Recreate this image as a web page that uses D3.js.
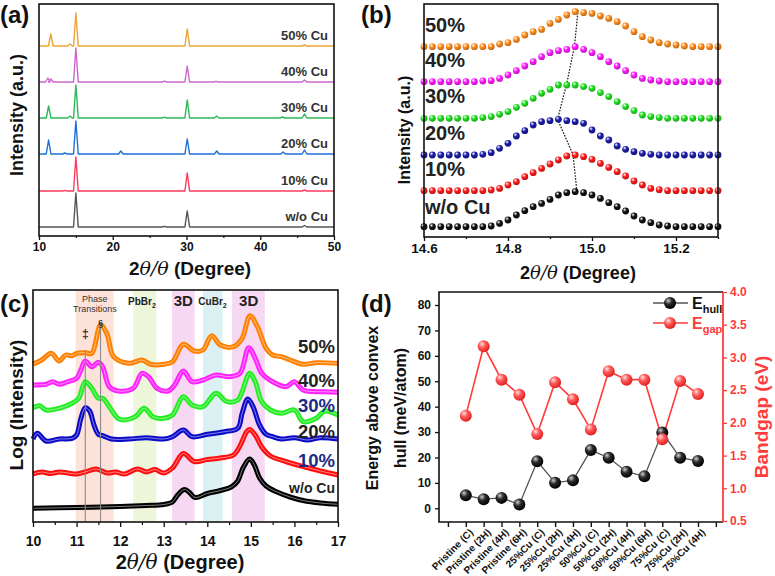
<!DOCTYPE html>
<html><head><meta charset="utf-8">
<script src="https://cdn.jsdelivr.net/npm/d3@7"></script>
<style>body{margin:0;background:#fff}svg{display:block}text{font-family:Arial,"Liberation Sans",sans-serif}</style>
</head><body><svg id="c" width="775" height="576"></svg>
<script>
// ---------------- DATA ----------------
// (a) XRD peaks: [2theta, height]
const seriesLabelsA = ["w/o Cu","10% Cu","20% Cu","30% Cu","40% Cu","50% Cu"];
const colorsA = ["#555555","#ff3a5e","#1f6fd8","#2cb85a","#cc66cc","#eba533"];
const offsetsA = [9,45,82,118,154,190];
const peaksWo = [[15,34],[27,0.7],[30.1,16],[46,1.5]];
const peaks10 = [[13.5,0.7],[15,34],[30.1,18],[46,1]];
const peaks20 = [[11.3,14],[13.5,1],[15,33],[21.1,3],[30.1,15],[34.1,3],[43.1,2],[46,4]];
const peaks30 = [[11.3,12],[14.2,2],[15,33],[27,0.8],[30.1,18],[34.1,2],[43,1],[46,4]];
const peaks40 = [[11.2,4],[11.6,3],[15,34],[27,0.8],[30.1,16],[34,0.7],[46,2]];
const peaks50 = [[11.6,12],[14.2,2],[15,33],[30.1,17],[46,1]];
const xTicksA = [10,20,30,40,50];

// (b) zoomed peak, sampled every 0.02 deg from 14.60 to 15.30
const labelsB = ["w/o Cu","10%","20%","30%","40%","50%"];
const colorsB = ["#111111","#ff1a1a","#1c1ca8","#1fe01f","#ff1aff","#ff8c1a"];
const offsetsB = [10.3,46.3,82,118.7,155.3,190.3];
const bWo  = [0,0,0,0,0,0,0,0,0.7,3.3,6.7,11.7,16,20,23.3,27.3,31.7,34,35,34,31.7,28.3,24,20,15.7,10.7,6.7,4,1.7,0.7,0,0,0,0,0,0];
const b10  = [0,0,0,0,0,0,0,0,0.7,2.3,5.7,9,14,18,22.3,26.7,30.7,34.7,35.7,34,31.3,27.3,23.3,19,14.7,9.7,5.7,2.3,1,0,0,0,0,0,0,0];
const b20  = [0,0,0,0,0,0,0,0.7,2.3,6.7,11.7,19,24.3,30,33.3,34.3,35.7,34.3,33.3,31.7,25,19,15,9,5.7,3.3,1.7,0.7,0,0,0,0,0,0,0,0];
const b30  = [0,0,0,0,0,0,0,0.7,1.7,4,6.7,11,15,20,25,29,33.3,33.3,33.3,31.7,30,25.7,21.7,16.7,11.7,7.7,3.3,1.7,0.7,0,0,0,0,0,0,0];
const b40  = [0,0,0,0,0,0,0,0.7,1,3.3,6.7,11,15.7,20,25,29,31,32.3,35,32.3,29,25,20,15.7,11,6.7,3.3,1.7,0.7,0,0,0,0,0,0,0];
const b50  = [0,0,0,0,0,0,0,0,0,2.7,4,7.3,11.7,15,17.3,23.3,27.3,31.7,35,34,33.3,30.7,28.3,25,20.7,15,10,6.7,4,2.7,1.7,0.7,0,0,0,0];
const peakPosB = [14.964,14.955,14.918,14.94,14.958,14.967];
const peakTopB = [45.3,82,117.7,153.7,190.3,227];
const xTicksB = [14.6,14.8,15.0,15.2];

// (c) log-intensity patterns: [2theta, value]
const labelsC = ["w/o Cu","10%","20%","30%","40%","50%"];
const colorsC = ["#000000","#ff0d0d","#0a0ac8","#22ee22","#ff22ff","#ff8000"];
const labelColorsC = ["#222","#1c2a86","#222","#1c2a86","#222","#222"];
const cWo = [[10,13.7],[11,14.5],[12,15.5],[12.6,16.5],[13.0,17.5],[13.2,20],[13.32,27],[13.47,32.5],[13.58,30],[13.72,24.5],[14.0,28.5],[14.3,31.5],[14.55,35],[14.7,41],[14.82,54],[14.97,63],[15.08,57],[15.2,44],[15.35,36],[15.6,30],[15.9,25],[16.2,21.5],[16.6,19],[17,17.7]];
const c10 = [[10,48],[10.2,50],[10.4,48.5],[10.6,50],[10.8,49],[11.0,48],[11.2,50],[11.45,53],[11.7,49],[11.9,50],[12.1,48],[12.4,53],[12.6,50],[12.8,52.5],[13.0,49],[13.2,54],[13.45,68.5],[13.7,60.5],[14.0,62.5],[14.3,64],[14.6,67],[14.75,76],[14.9,90],[14.97,92.5],[15.1,87],[15.25,75],[15.45,66],[15.8,60.5],[16.2,55.5],[16.6,51],[17,47]];
const c20 = [[10,83],[10.1,88.7],[10.3,81],[10.6,83],[10.9,83.7],[11.0,87],[11.1,103.7],[11.2,114.3],[11.3,111],[11.4,97],[11.5,87.7],[11.6,86.3],[11.8,83],[12.2,83],[12.6,84.3],[13.0,83],[13.2,85.3],[13.45,92],[13.65,85.3],[14.0,87.7],[14.4,90.3],[14.7,93.7],[14.8,108.7],[14.93,123],[15.05,115.3],[15.2,97],[15.35,87.7],[15.5,85.3],[15.7,83],[16.0,84.3],[16.3,82],[16.6,84.3],[17,83]];
const c30 = [[10,114.3],[10.15,116.3],[10.3,112],[10.6,113.7],[10.9,118.7],[11.05,123.7],[11.2,140.3],[11.35,133.7],[11.5,123.7],[11.6,123.7],[11.75,115.3],[11.95,103.7],[12.1,102],[12.35,105.3],[12.55,113.7],[12.75,105.3],[13.0,103.7],[13.2,107],[13.45,125.3],[13.65,117],[13.9,115.3],[14.2,128.7],[14.45,120.3],[14.7,122],[14.8,130.3],[14.97,148.7],[15.1,140.3],[15.25,120.3],[15.45,112],[15.7,108.7],[16.0,112],[16.2,100.3],[16.5,103.7],[16.7,111],[17,107]];
const c40 = [[10,137],[10.3,137.7],[10.45,140.3],[10.6,137.7],[10.8,140.3],[11.0,143.7],[11.1,152],[11.2,161],[11.35,155.3],[11.5,159.7],[11.6,155.3],[11.75,135.3],[11.95,131],[12.3,133.7],[12.5,148.7],[12.65,145.3],[12.85,133.7],[13.1,131],[13.25,137],[13.45,151],[13.65,140.3],[13.9,142],[14.2,147],[14.5,145.3],[14.75,148.7],[14.95,174.3],[15.1,163.7],[15.25,148.7],[15.5,140.3],[15.8,135.3],[16.0,140.3],[16.2,132],[16.5,130.3],[16.7,130.3],[17,129.7]];
const c50 = [[10,158],[10.2,162],[10.42,168.7],[10.6,161],[10.75,167],[10.9,166.3],[11.0,168.7],[11.2,169.3],[11.35,168.7],[11.55,197],[11.7,187.7],[11.85,165.3],[12.2,158.7],[12.5,162],[12.7,157.7],[13.0,157.7],[13.2,160.3],[13.45,177.7],[13.7,171],[13.9,172],[14.1,186.3],[14.3,177],[14.6,175.3],[14.8,183.7],[14.98,206.3],[15.15,195.3],[15.35,173.7],[15.5,167],[15.7,165.3],[15.9,162],[16.2,157.7],[16.5,159.3],[17,158.7]];
const bandsC = [[10.98,11.85,"#fde2da"],[12.3,12.83,"#eef6da"],[13.19,13.71,"#f6d8f3"],[13.9,14.35,"#dbf0f3"],[14.57,15.32,"#f6d8f3"]];
const xTicksC = [10,11,12,13,14,15,16,17];

// (d) DFT results
const categoriesD = ["Pristine (C)","Pristine (2H)","Pristine (4H)","Pristine (6H)","25%Cu (C)","25%Cu (2H)","25%Cu (4H)","50%Cu (C)","50%Cu (2H)","50%Cu (4H)","50%Cu (6H)","75%Cu (C)","75%Cu (2H)","75%Cu (4H)"];
const eHull = [5.1,3.6,4.1,1.5,18.5,10.1,11.0,22.9,19.9,14.4,12.6,29.8,19.9,18.6];
const eGap  = [2.11,3.17,2.66,2.43,1.83,2.62,2.36,1.90,2.79,2.66,2.66,1.75,2.64,2.44];
const yTicksDL = [0,10,20,30,40,50,60,70,80];
const yTicksDR = [0.5,1.0,1.5,2.0,2.5,3.0,3.5,4.0];

// ---------------- DRAWING ----------------
const svg = d3.select("#c");
svg.append("rect").attr("width",775).attr("height",576).attr("fill","#fff");
const defs = svg.append("defs");
function ballGrad(id, c0, c1, c2){
  const g = defs.append("radialGradient").attr("id",id).attr("cx","38%").attr("cy","35%").attr("r","65%").attr("fx","35%").attr("fy","30%");
  g.append("stop").attr("offset","0%").attr("stop-color",c0);
  g.append("stop").attr("offset","45%").attr("stop-color",c1);
  g.append("stop").attr("offset","100%").attr("stop-color",c2);
}
colorsB.forEach((c,i)=>ballGrad("gb"+i, "#ffffff", c, d3.color(c).darker(0.8)));
ballGrad("gHull","#cfcfcf","#2a2a2a","#000");
ballGrad("gGap","#ffe0e0","#ff5a5a","#e02020");

const FONT = 'Arial,"Liberation Sans",sans-serif';
function txt(x,y,s,size,opts={}){
  const t = svg.append("text").attr("x",x).attr("y",y).attr("font-size",size)
    .attr("font-weight",opts.weight||"bold").attr("fill",opts.fill||"#111")
    .attr("text-anchor",opts.anchor||"start").text(s);
  if(opts.rotate) t.attr("transform",`rotate(${opts.rotate},${x},${y})`);
  return t;
}
function xLabel(x,y,size){
  const t = svg.append("text").attr("x",x).attr("y",y).attr("font-size",size).attr("font-weight","bold")
    .attr("text-anchor","middle").attr("fill","#111");
  t.append("tspan").text("2");
  t.append("tspan").attr("font-style","italic").attr("font-family","'DejaVu Serif',serif").attr("font-weight","normal").text("θ/θ");
  t.append("tspan").text(" (Degree)");
}
function bottomAxis(scale,y,majors,minors,fmt,fs,tsize,pad){
  const g = svg.append("g").attr("transform",`translate(0,${y})`)
    .call(d3.axisBottom(scale).tickValues(majors).tickSize(tsize).tickSizeOuter(0).tickPadding(pad).tickFormat(fmt));
  g.attr("font-family",FONT);
  g.select(".domain").remove();
  g.selectAll("text").attr("font-size",fs).attr("font-weight","bold").attr("fill","#111");
  g.selectAll("line").attr("stroke","#111").attr("stroke-width",1.3);
  if(minors){
    const m = svg.append("g").attr("transform",`translate(0,${y})`)
      .call(d3.axisBottom(scale).tickValues(minors).tickSize(tsize-2).tickSizeOuter(0).tickFormat(""));
    m.select(".domain").remove();
    m.selectAll("line").attr("stroke","#111").attr("stroke-width",1.2);
  }
  return g;
}
function frame(x0,y0,x1,y1,col){
  svg.append("rect").attr("x",x0).attr("y",y0).attr("width",x1-x0).attr("height",y1-y0)
    .attr("fill","none").attr("stroke",col||"#111").attr("stroke-width",1.6);
}

// ===== Panel (a) =====
{
  const x = d3.scaleLinear().domain([10,50]).range([39,334]);
  const y = d3.scaleLinear().domain([0,232]).range([236,4]);
  const all = [peaksWo,peaks10,peaks20,peaks30,peaks40,peaks50];
  const line = d3.line().x(d=>x(d[0])).y(d=>y(d[1]));
  all.forEach((pk,i)=>{
    const off = offsetsA[i];
    const pts = [[10,off]];
    pk.slice().sort((a,b)=>a[0]-b[0]).forEach(p=>{
      pts.push([p[0]-0.32,off],[p[0],off+p[1]],[p[0]+0.32,off]);
    });
    pts.push([50,off]);
    svg.append("path").attr("d",line(pts)).attr("fill","none").attr("stroke",colorsA[i]).attr("stroke-width",1.4).attr("stroke-linejoin","round");
    txt(328, y(off)-11+4.5, seriesLabelsA[i], 13, {anchor:"end",fill:"#333"});
  });
  frame(39,4,334,236);
  bottomAxis(x,236,xTicksA,[15,25,35,45],d3.format("d"),12,4,2);
  txt(17,115,"Intensity (a.u.)",18,{anchor:"middle",rotate:-90}).attr("dy","0.35em");
  xLabel(190,275,19);
  txt(0,23,"(a)",24);
}

// ===== Panel (b) =====
{
  const x = d3.scaleLinear().domain([14.6,15.3]).range([424,718]);
  const y = d3.scaleLinear().domain([0,233]).range([237,4]);
  const grid = d3.range(36).map(k=>+(14.6+0.02*k).toFixed(2));
  const all = [bWo,b10,b20,b30,b40,b50];
  svg.append("path").attr("d",d3.line().x((d,i)=>x(d)).y((d,i)=>y(peakTopB[i]))(peakPosB))
    .attr("fill","none").attr("stroke","#111").attr("stroke-width",1.2).attr("stroke-dasharray","1.6,1.4");
  all.forEach((vals,i)=>{
    txt(425, y(offsetsB[i]+ (i===0?13:15)) , labelsB[i], 20, {fill:"#222"});
  });
  all.forEach((vals,i)=>{
    svg.append("g").selectAll("circle").data(vals).join("circle")
      .attr("cx",(d,k)=>x(grid[k])).attr("cy",d=>y(offsetsB[i]+d)).attr("r",3.4)
      .attr("fill",`url(#gb${i})`);
  });
  frame(424,4,718,237);
  bottomAxis(x,237,xTicksB,[14.7,14.9,15.1,15.3],d3.format(".1f"),13.5,4,2);
  txt(410,130,"Intensity (a.u.)",16,{anchor:"middle",rotate:-90});
  xLabel(578,279,18);
  txt(361,23,"(b)",24);
}

// ===== Panel (c) =====
{
  const x = d3.scaleLinear().domain([10,17]).range([33,338]);
  const y = d3.scaleLinear().domain([0,232]).range([522,290]);
  bandsC.forEach(b=>{
    svg.append("rect").attr("x",x(b[0])).attr("y",291).attr("width",x(b[1])-x(b[0])).attr("height",230).attr("fill",b[2]);
  });
  const all = [cWo,c10,c20,c30,c40,c50];
  const line = d3.line().x(d=>x(d[0])).y(d=>y(d[1])).curve(d3.curveCatmullRom.alpha(0.5));
  all.forEach((pts,i)=>{
    svg.append("path").attr("d",line(pts)).attr("fill","none").attr("stroke",colorsC[i]).attr("stroke-width",5).attr("stroke-linejoin","round");
    svg.append("path").attr("d",line(pts)).attr("fill","none").attr("stroke","#fff").attr("stroke-opacity",0.55).attr("stroke-width",0.9);
  });
  svg.append("line").attr("x1",x(11.2)).attr("x2",x(11.2)).attr("y1",y(172)).attr("y2",522).attr("stroke","#8a8a8a").attr("stroke-width",1.1);
  svg.append("line").attr("x1",x(11.55)).attr("x2",x(11.55)).attr("y1",y(200)).attr("y2",522).attr("stroke","#8a8a8a").attr("stroke-width",1.1);
  txt(x(11.2),338,"‡",12,{anchor:"middle",fill:"#333"});
  txt(x(11.55),326,"§",9,{anchor:"middle",fill:"#333"});
  txt(x(11.42),302,"Phase",9,{anchor:"middle",fill:"#333",weight:"normal"});
  txt(x(11.42),312,"Transitions",9,{anchor:"middle",fill:"#333",weight:"normal"});
  const pb = txt(x(12.5),305,"PbBr",10,{anchor:"middle",fill:"#222"});
  pb.append("tspan").attr("font-size",7).attr("dy",3).text("2");
  const cb = txt(x(14.12),305,"CuBr",10,{anchor:"middle",fill:"#222"});
  cb.append("tspan").attr("font-size",7).attr("dy",3).text("2");
  txt(x(13.45),306,"3D",15,{anchor:"middle",fill:"#222",weight:"600"});
  txt(x(14.95),306,"3D",15,{anchor:"middle",fill:"#222",weight:"600"});
  const lblY = [492.7,466.7,438.3,411.7,386.7,353.3];
  labelsC.forEach((l,i)=>txt(335,lblY[i],l,i===0?14:18.5,{anchor:"end",fill:labelColorsC[i]}));
  frame(33,290,338,522);
  bottomAxis(x,522,xTicksC,[10.5,11.5,12.5,13.5,14.5,15.5,16.5],d3.format("d"),14,5,9);
  txt(16,405,"Log (Intensity)",19,{anchor:"middle",rotate:-90}).attr("dy","0.35em");
  xLabel(180,569,20);
  txt(0,312,"(c)",24);
}

// ===== Panel (d) =====
{
  const x = d3.scaleLinear().domain([-0.5,15.4]).range([439,723]);
  const yL = d3.scaleLinear().domain([0,80]).range([508.3,305]);
  const yR = d3.scaleLinear().domain([0.5,4.0]).range([521,292]);
  const idx = categoriesD.map((c,i)=>i+1);
  const gb = svg.append("g").attr("transform","translate(0,522)")
    .call(d3.axisBottom(x).tickValues(d3.range(0,16)).tickSize(5).tickSizeOuter(0).tickFormat(""));
  gb.select(".domain").remove(); gb.selectAll("line").attr("stroke","#111").attr("stroke-width",1.4);
  categoriesD.forEach((c,i)=>{
    const px = x(i+1)+3, py = 528;
    txt(px,py,c,10,{anchor:"end",fill:"#111",rotate:-45}).attr("dy","0.7em");
  });
  const gl = svg.append("g").attr("transform","translate(439,0)")
    .call(d3.axisLeft(yL).tickValues(yTicksDL).tickSize(4).tickPadding(4).tickSizeOuter(0).tickFormat(d3.format("d")));
  gl.attr("font-family",FONT); gl.select(".domain").remove();
  gl.selectAll("line").attr("stroke","#111").attr("stroke-width",1.3);
  gl.selectAll("text").attr("font-size",12).attr("font-weight","bold").attr("fill","#111");
  const gr = svg.append("g").attr("transform","translate(723,0)")
    .call(d3.axisRight(yR).tickValues(yTicksDR).tickSize(4).tickPadding(3).tickSizeOuter(0).tickFormat(d3.format(".1f")));
  gr.attr("font-family",FONT); gr.select(".domain").remove();
  gr.selectAll("line").attr("stroke","#ff3b3b").attr("stroke-width",1.3);
  gr.selectAll("text").attr("font-size",12).attr("font-weight","bold").attr("fill","#ff3b3b");
  svg.append("path").attr("d","M723,292 H439 V522 H723").attr("fill","none").attr("stroke","#111").attr("stroke-width",1.6);
  svg.append("line").attr("x1",723).attr("x2",723).attr("y1",292).attr("y2",522).attr("stroke","#ff3b3b").attr("stroke-width",1.8);
  svg.append("path").attr("d",d3.line().x((d,i)=>x(idx[i])).y(d=>yL(d))(eHull)).attr("fill","none").attr("stroke","#555").attr("stroke-width",1.3);
  svg.append("path").attr("d",d3.line().x((d,i)=>x(idx[i])).y(d=>yR(d))(eGap)).attr("fill","none").attr("stroke","#ff3b3b").attr("stroke-width",1.6);
  svg.append("g").selectAll("circle").data(eHull).join("circle").attr("cx",(d,i)=>x(idx[i])).attr("cy",d=>yL(d)).attr("r",6).attr("fill","url(#gHull)");
  svg.append("g").selectAll("circle").data(eGap).join("circle").attr("cx",(d,i)=>x(idx[i])).attr("cy",d=>yR(d)).attr("r",6).attr("fill","url(#gGap)");
  svg.append("line").attr("x1",653).attr("x2",688).attr("y1",303).attr("y2",303).attr("stroke","#555").attr("stroke-width",1.3);
  svg.append("circle").attr("cx",670).attr("cy",303).attr("r",6).attr("fill","url(#gHull)");
  const l1 = txt(692,309,"E",16,{fill:"#111"}); l1.append("tspan").attr("font-size",11).attr("dy",4).text("hull");
  svg.append("line").attr("x1",653).attr("x2",688).attr("y1",323).attr("y2",323).attr("stroke","#ff3b3b").attr("stroke-width",1.6);
  svg.append("circle").attr("cx",670).attr("cy",323).attr("r",6).attr("fill","url(#gGap)");
  const l2 = txt(692,329,"E",16,{fill:"#ff3b3b"}); l2.append("tspan").attr("font-size",11).attr("dy",4).text("gap");
  txt(378,408,"Energy above convex",16,{anchor:"middle",rotate:-90});
  txt(406,408,"hull (meV/atom)",16,{anchor:"middle",rotate:-90});
  txt(768,417,"Bandgap (eV)",19,{anchor:"middle",rotate:-90,fill:"#ff3b3b"});
  txt(361,312,"(d)",24);
}
</script></body></html>
